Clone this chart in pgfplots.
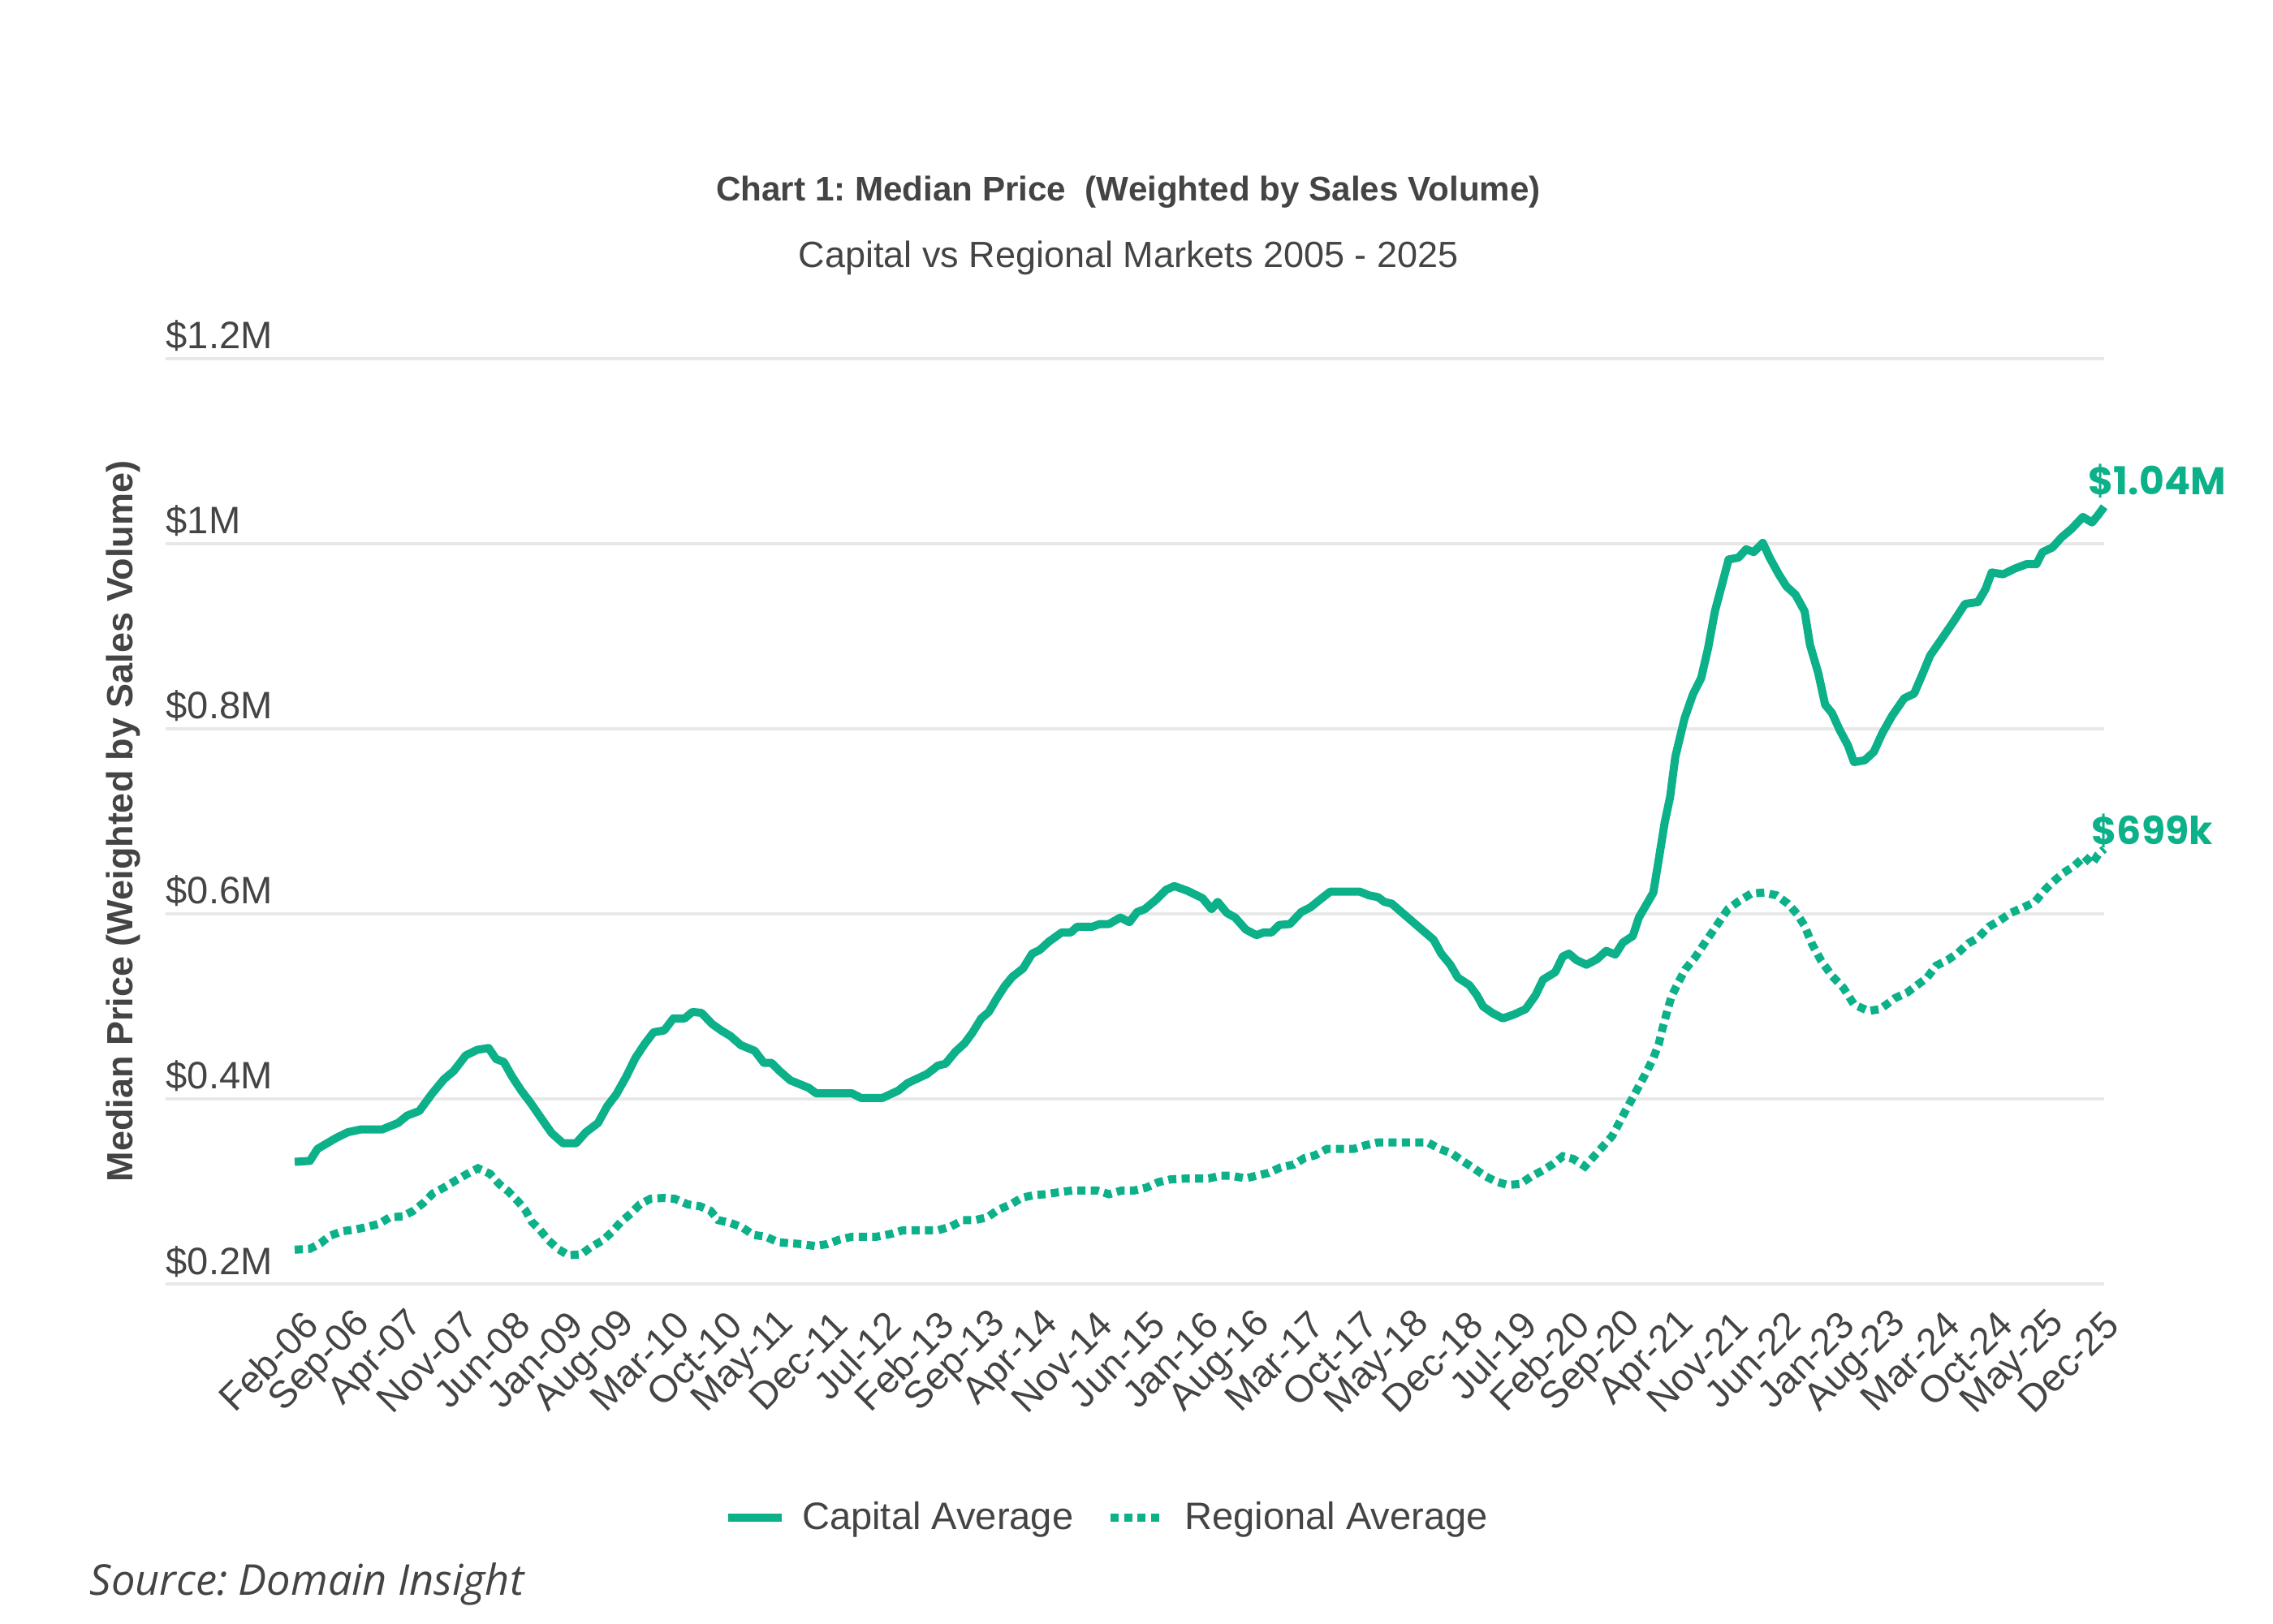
\documentclass[border=0pt]{standalone}
\usepackage{fontspec}
\setmainfont{Liberation Sans}
\newfontfamily\popfont{Poppins}
\newfontfamily\osfont{Open Sans}
\usepackage{pgfplots}
\usepackage{pgfplotstable}
\pgfplotsset{compat=1.18}
\frenchspacing

\definecolor{teal1}{RGB}{12,176,137}
\definecolor{txt}{RGB}{68,68,68}
\definecolor{gridc}{RGB}{232,232,232}
\newcommand\tfs{\fontsize{13.4}{16}\selectfont}

% month index: 0 = Feb-06 ... 238 = Dec-25, value in $M
\pgfplotstableread{
m v
0 0.332
2 0.333
3 0.346
5.5 0.358
7 0.364
8.7 0.367
11.5 0.367
13.6 0.374
14.8 0.382
16.4 0.387
18 0.405
19.6 0.421
20.9 0.430
22.5 0.447
24 0.453
25.5 0.455
26.5 0.443
27.5 0.440
28.6 0.424
29.8 0.409
31 0.396
32.6 0.377
33.8 0.363
35.3 0.352
37 0.352
38.3 0.364
39.9 0.374
41.1 0.392
42.3 0.405
43.6 0.424
44.8 0.444
46 0.459
47.2 0.472
48.6 0.474
49.8 0.487
51.3 0.487
52.3 0.494
53.5 0.493
54.9 0.481
56.1 0.474
57.3 0.468
58.7 0.458
60.5 0.452
61.7 0.439
62.7 0.439
63.8 0.430
65.2 0.420
67.6 0.412
68.6 0.406
73.3 0.406
74.5 0.401
77.3 0.401
79.4 0.409
80.6 0.417
83.2 0.427
84.6 0.436
85.6 0.438
86.9 0.451
88.1 0.460
89.1 0.471
90.3 0.487
91.3 0.494
92.3 0.508
93.4 0.522
94.4 0.532
95.8 0.541
97 0.557
98 0.561
99.2 0.570
100.9 0.580
102.1 0.580
102.9 0.586
104.9 0.586
105.9 0.589
107.1 0.589
108.6 0.596
109.8 0.591
110.8 0.602
111.8 0.605
113.4 0.616
114.6 0.626
115.7 0.630
117.4 0.625
119.4 0.617
120.6 0.605
121.4 0.613
122.6 0.601
123.7 0.596
125.1 0.583
126.5 0.577
127.5 0.580
128.5 0.580
129.5 0.588
130.9 0.589
132.4 0.602
133.6 0.607
134.8 0.615
136.2 0.624
140.1 0.624
141.3 0.620
142.5 0.618
143.3 0.613
144.3 0.611
145.7 0.601
149.8 0.572
150.8 0.557
152 0.545
153 0.531
154.5 0.523
155.5 0.512
156.3 0.500
157.5 0.493
158.9 0.487
160.3 0.491
161.9 0.497
163.2 0.512
164.2 0.529
165.8 0.537
166.8 0.554
167.6 0.557
168.6 0.550
169.9 0.545
171.3 0.551
172.5 0.560
173.7 0.556
174.7 0.569
176.0 0.576
176.8 0.596
178.7 0.623
179.4 0.658
180.2 0.699
180.9 0.726
181.6 0.770
182.8 0.811
183.9 0.837
185.0 0.855
185.9 0.887
186.8 0.927
187.8 0.958
188.6 0.983
189.9 0.985
190.9 0.994
191.9 0.991
193.1 1.001
194.0 0.985
195.2 0.967
196.2 0.954
197.4 0.945
198.6 0.927
199.3 0.891
200.4 0.860
201.3 0.826
202.2 0.817
203.2 0.799
204.3 0.782
205.1 0.764
206.5 0.766
207.7 0.775
208.8 0.795
210.1 0.814
211.7 0.833
213 0.838
214.2 0.861
215.1 0.879
216.7 0.898
218.2 0.916
219.7 0.935
221.4 0.937
222.4 0.951
223.2 0.969
224.7 0.967
226.2 0.973
227.8 0.978
229.1 0.978
229.9 0.991
231.2 0.996
232.4 1.007
233.7 1.016
235.2 1.029
236.4 1.023
237.2 1.031
238 1.040
}\capital

\pgfplotstableread{
m v
0 0.237
2 0.238
3.4 0.244
4.6 0.252
6.3 0.257
8.1 0.259
9.7 0.262
11.1 0.265
12.5 0.272
14.2 0.273
15.6 0.279
17 0.288
18.2 0.298
19.6 0.304
21 0.311
22.7 0.319
24.1 0.325
25.7 0.319
26.9 0.308
28.1 0.300
29.4 0.289
30.4 0.279
31.2 0.267
32.2 0.259
33.4 0.247
34.6 0.238
36 0.231
37.7 0.232
39 0.240
40.5 0.247
41.7 0.256
42.9 0.267
44.2 0.276
45.4 0.286
46.8 0.292
48.6 0.293
50 0.292
51.7 0.286
53.3 0.284
54.7 0.279
55.7 0.269
57.3 0.266
58.9 0.261
60.3 0.253
62 0.251
63.6 0.245
65.2 0.244
66.8 0.243
68.4 0.241
70 0.243
71.7 0.248
73.3 0.251
76.5 0.251
78.4 0.254
80 0.258
84.6 0.258
86.3 0.262
87.9 0.269
89.5 0.269
91.1 0.272
92.5 0.280
94.2 0.286
95.6 0.293
97.2 0.296
98.8 0.297
100.4 0.299
102.3 0.301
105.5 0.301
107.1 0.297
108.8 0.301
110.4 0.301
112 0.304
113.6 0.310
115.2 0.313
117.4 0.314
120.2 0.314
121.8 0.317
123.2 0.317
125.1 0.314
126.5 0.317
128.1 0.320
129.7 0.326
131.4 0.329
132.8 0.336
134.2 0.339
135.8 0.346
139.3 0.346
140.9 0.350
142.5 0.353
149 0.353
150.6 0.346
152.2 0.341
153.6 0.333
155.1 0.325
156.5 0.317
157.9 0.311
159.5 0.307
161.2 0.308
162.6 0.316
164 0.322
165.4 0.329
166.8 0.338
168.2 0.335
169.7 0.327
170.9 0.338
172.1 0.349
173.3 0.360
174.9 0.385
176.1 0.403
177.6 0.426
178.7 0.444
179.4 0.459
180.0 0.479
180.6 0.497
181.1 0.511
182.0 0.526
182.9 0.540
184.2 0.553
185.5 0.569
187.0 0.587
188.5 0.605
190.0 0.614
191.6 0.622
193.3 0.623
194.9 0.620
196.4 0.611
197.6 0.600
198.6 0.587
199.6 0.567
200.8 0.549
202.2 0.533
203.7 0.520
205.1 0.502
207.0 0.495
208.5 0.497
209.2 0.501
210.5 0.509
212.1 0.515
213.4 0.523
214.7 0.531
215.9 0.544
217.4 0.550
218.8 0.558
220.1 0.568
221.4 0.574
222.8 0.586
224.3 0.593
225.7 0.601
227.4 0.607
228.9 0.613
230.1 0.625
231.2 0.634
232.6 0.644
234.1 0.652
235.4 0.662
236.4 0.654
237.2 0.664
238 0.670
}\regional

\begin{document}
\begin{tikzpicture}
\path[use as bounding box] (0,0) rectangle (28,20);

\node[anchor=base, inner sep=0pt, text=txt, font=\fontsize{12}{14}\selectfont\bfseries]
  at (13.90,17.52) {Chart 1: Median Price~~(Weighted by Sales Volume)};
\node[anchor=base, inner sep=0pt, text=txt, font=\fontsize{12.8}{15}\selectfont]
  at (13.90,16.70) {Capital vs Regional Markets 2005 - 2025};

\begin{axis}[
  at={(2.04cm,4.18cm)}, anchor=south west,
  scale only axis, width=23.88cm, height=11.40cm,
  xmin=-16.98, xmax=238, ymin=0.2, ymax=1.2,
  clip=false,
  axis line style={draw=none},
  major tick length=0pt,
  ymajorgrids, grid style={gridc, line width=1pt},
  ytick={0.2,0.4,0.6,0.8,1.0,1.2},
  yticklabels={\$0.2M,\$0.4M,\$0.6M,\$0.8M,\$1M,\$1.2M},
  yticklabel style={inner sep=0pt, anchor=base west, yshift=0.12cm, font=\tfs, text=txt},
  xtick={0,6.965,...,237},
  xticklabels={Feb-06,Sep-06,Apr-07,Nov-07,Jun-08,Jan-09,Aug-09,Mar-10,Oct-10,May-11,Dec-11,Jul-12,Feb-13,Sep-13,Apr-14,Nov-14,Jun-15,Jan-16,Aug-16,Mar-17,Oct-17,May-18,Dec-18,Jul-19,Feb-20,Sep-20,Apr-21,Nov-21,Jun-22,Jan-23,Aug-23,Mar-24,Oct-24,May-25,Dec-25},
  xticklabel style={inner sep=0pt, xshift=0.21cm, yshift=-0.42cm, rotate=45, anchor=east, font=\tfs, text=txt},
  ylabel={Median Price (Weighted by Sales Volume)},
  ylabel style={at={(axis description cs:-0.0218,0.5)}, anchor=center, rotate=0,
    font=\fontsize{12.8}{15}\selectfont\bfseries, text=txt},
  legend columns=2,
  legend style={at={(axis description cs:0.4866,-0.253)}, anchor=center,
    draw=none, fill=none, font=\tfs, text=txt,
    /tikz/every odd column/.append style={column sep=0.13cm},
    /tikz/every even column/.append style={column sep=0.34cm}},
  legend image code/.code={\draw[#1] (0cm,0cm) -- (0.66cm,0cm);},
]
\addplot[teal1, line width=0.1cm, line join=round] table[x=m, y=v] {\capital};
\addlegendentry{Capital Average}
\addplot[teal1, line width=0.1cm, dash pattern=on 0.1cm off 0.065cm] table[x=m, y=v] {\regional};
\addlegendentry{Regional Average}

\node[anchor=base west, inner sep=0pt, xshift=-0.20cm, text=teal1,
  font=\popfont\bfseries\fontsize{13.5}{16}\selectfont] at (axis cs:238,1.0535) {\$1.04M};
\node[anchor=base west, inner sep=0pt, xshift=-0.16cm, text=teal1,
  font=\popfont\bfseries\fontsize{13.5}{16}\selectfont] at (axis cs:238,0.6746) {\$699k};
\end{axis}

\node[anchor=base west, inner sep=0pt, text=txt, font=\osfont\itshape\fontsize{14.9}{17}\selectfont]
  at (1.10,0.35) {Source: Domain Insight};
\end{tikzpicture}
\end{document}
